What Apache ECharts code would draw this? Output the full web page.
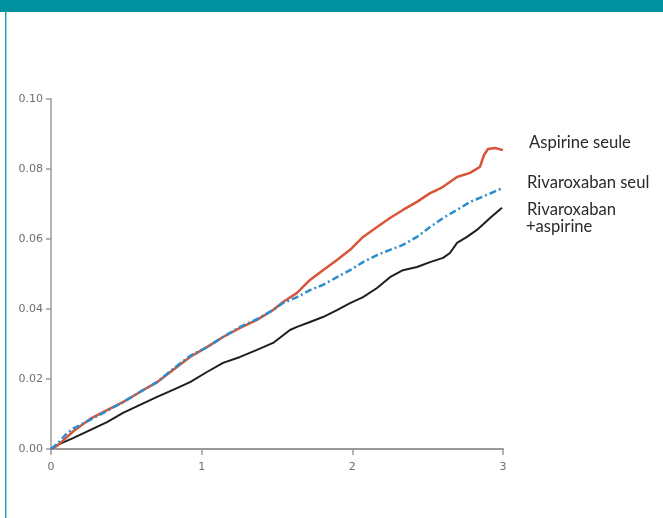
<!DOCTYPE html>
<html>
<head>
<meta charset="utf-8">
<script src="https://cdn.jsdelivr.net/npm/echarts@6/dist/echarts.min.js"></script>
<style>
html,body{margin:0;padding:0;background:#fff;}
#c{width:663px;height:518px;}
</style>
</head>
<body>
<div id="c"></div>
<script>
// Series names (labels at right)
const seriesNames = ['Aspirine seule', 'Rivaroxaban seul', 'Rivaroxaban', '+aspirine'];
// Axis ticks
const xTicks = [0, 1, 2, 3];
const yTicks = [0, 0.02, 0.04, 0.06, 0.08, 0.10];

// Aspirine seule (red)
const aspT = [0, 0.04, 0.106, 0.146, 0.259, 0.372, 0.478, 0.591, 0.704, 0.810, 0.923, 1.035, 1.142, 1.255, 1.367, 1.474, 1.540, 1.633, 1.719, 1.805, 1.898, 1.985, 2.071, 2.164, 2.250, 2.336, 2.429, 2.516, 2.562, 2.602, 2.695, 2.781, 2.847, 2.874, 2.900, 2.947, 3.0];
const aspV = [0, 0.0009, 0.0034, 0.0050, 0.0086, 0.0111, 0.0134, 0.0163, 0.0191, 0.0226, 0.0263, 0.0291, 0.0320, 0.0346, 0.0369, 0.0397, 0.0420, 0.0446, 0.0483, 0.0511, 0.0540, 0.0569, 0.0606, 0.0634, 0.0660, 0.0683, 0.0706, 0.0731, 0.0740, 0.0749, 0.0777, 0.0789, 0.0806, 0.0840, 0.0857, 0.0860, 0.0854];

// Rivaroxaban seul (blue)
const rivT = [0, 0.04, 0.106, 0.146, 0.259, 0.372, 0.478, 0.591, 0.704, 0.810, 0.923, 1.035, 1.142, 1.255, 1.367, 1.474, 1.540, 1.633, 1.719, 1.805, 1.898, 1.985, 2.071, 2.164, 2.250, 2.336, 2.429, 2.516, 2.602, 2.695, 2.781, 2.894, 3.0];
const rivV = [0, 0.0014, 0.0045, 0.0058, 0.0083, 0.0109, 0.0134, 0.0163, 0.0191, 0.0229, 0.0266, 0.0291, 0.0320, 0.0349, 0.0371, 0.0397, 0.0417, 0.0434, 0.0454, 0.0469, 0.0491, 0.0511, 0.0534, 0.0554, 0.0569, 0.0583, 0.0606, 0.0634, 0.0660, 0.0683, 0.0706, 0.0726, 0.0746];

// Rivaroxaban + aspirine (black)
const comboT = [0, 0.04, 0.146, 0.259, 0.372, 0.478, 0.591, 0.704, 0.810, 0.923, 1.035, 1.142, 1.255, 1.367, 1.474, 1.586, 1.633, 1.719, 1.805, 1.898, 1.985, 2.071, 2.164, 2.250, 2.336, 2.429, 2.516, 2.602, 2.648, 2.695, 2.761, 2.827, 2.914, 2.993];
const comboV = [0, 0.0011, 0.0031, 0.0054, 0.0077, 0.0103, 0.0126, 0.0149, 0.0169, 0.0191, 0.0220, 0.0246, 0.0263, 0.0283, 0.0303, 0.0340, 0.0349, 0.0363, 0.0377, 0.0397, 0.0417, 0.0434, 0.0460, 0.0491, 0.0511, 0.0520, 0.0534, 0.0546, 0.0560, 0.0589, 0.0606, 0.0626, 0.0660, 0.0689];

const zip = (a, b) => a.map((t, i) => [t, b[i]]);

const chart = echarts.init(document.getElementById('c'), null, {renderer: 'canvas'});
const axisColor = '#9a9a9a';
const labelStyle = {color: '#6f6f6f', fontSize: 11, fontFamily: 'DejaVu Sans'};
const legendFont = {fontSize: 16.6, fontFamily: 'Lato', fill: '#2a2a2a', verticalAlign: 'middle', align: 'left'};

chart.setOption({
  backgroundColor: '#ffffff',
  animation: false,
  grid: {left: 51, right: 160, top: 99, bottom: 69, containLabel: false},
  xAxis: {
    type: 'value', min: 0, max: 3, interval: 1,
    axisLine: {show: true, lineStyle: {color: axisColor, width: 2}},
    axisTick: {show: true, inside: false, length: 6, lineStyle: {color: axisColor, width: 1.5}},
    axisLabel: Object.assign({margin: 13, formatter: v => String(v)}, labelStyle),
    splitLine: {show: false}
  },
  yAxis: {
    type: 'value', min: 0, max: 0.10, interval: 0.02,
    axisLine: {show: true, lineStyle: {color: axisColor, width: 1.5}},
    axisTick: {show: true, inside: false, length: 5, lineStyle: {color: axisColor, width: 1.5}},
    axisLabel: Object.assign({margin: 8, formatter: v => v.toFixed(2)}, labelStyle),
    splitLine: {show: false}
  },
  series: [
    {
      name: seriesNames[0], type: 'line', data: zip(aspT, aspV), showSymbol: false,
      lineStyle: {color: '#d8553a', width: 2.5}, z: 3
    },
    {
      name: seriesNames[1], type: 'line', data: zip(rivT, rivV), showSymbol: false,
      lineStyle: {color: '#2d8dcc', width: 2.5, type: [7, 3, 2, 3]}, z: 4
    },
    {
      name: seriesNames[2] + ' ' + seriesNames[3], type: 'line', data: zip(comboT, comboV), showSymbol: false,
      lineStyle: {color: '#1e1e1e', width: 2}, z: 2
    }
  ],
  graphic: [
    {type: 'rect', left: 0, top: 0, shape: {width: 663, height: 12}, style: {fill: '#00939f'}},
    {type: 'rect', left: 5, top: 12, shape: {width: 1.5, height: 506}, style: {fill: '#19a8b5'}},
    {type: 'text', x: 529, y: 143, style: Object.assign({text: seriesNames[0]}, legendFont)},
    {type: 'text', x: 527, y: 183, style: Object.assign({text: seriesNames[1]}, legendFont)},
    {type: 'text', x: 527, y: 210, style: Object.assign({text: seriesNames[2]}, legendFont)},
    {type: 'text', x: 526, y: 226.5, style: Object.assign({text: seriesNames[3]}, legendFont)}
  ]
});
</script>
</body>
</html>
